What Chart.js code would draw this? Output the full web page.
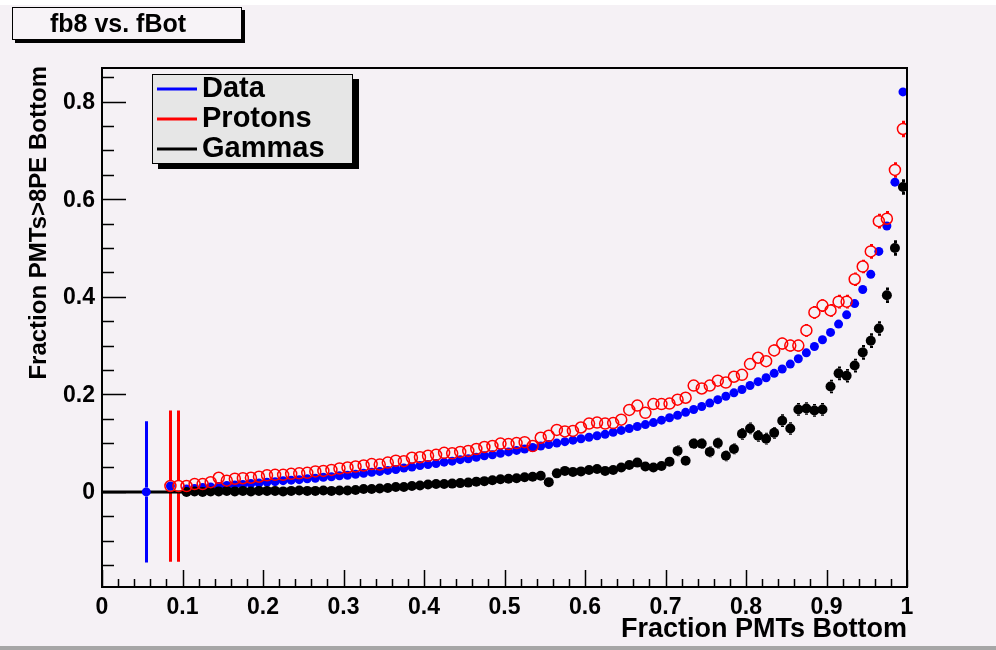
<!DOCTYPE html>
<html>
<head>
<meta charset="utf-8">
<script src="https://cdn.jsdelivr.net/npm/chart.js@4/dist/chart.umd.min.js"></script>
<style>
  html, body { margin: 0; padding: 0; background: #ffffff; }
  #wrap { width: 996px; height: 650px; }
</style>
</head>
<body>
<div id="wrap"><canvas id="chart" width="996" height="650"></canvas></div>
<script>
// ---- data (bin centres of fBot, 0.01 wide bins) ----
const binX = [
  0.055, 0.065, 0.075, 0.085, 0.095,
  0.105, 0.115, 0.125, 0.135, 0.145, 0.155, 0.165, 0.175, 0.185, 0.195,
  0.205, 0.215, 0.225, 0.235, 0.245, 0.255, 0.265, 0.275, 0.285, 0.295,
  0.305, 0.315, 0.325, 0.335, 0.345, 0.355, 0.365, 0.375, 0.385, 0.395,
  0.405, 0.415, 0.425, 0.435, 0.445, 0.455, 0.465, 0.475, 0.485, 0.495,
  0.505, 0.515, 0.525, 0.535, 0.545, 0.555, 0.565, 0.575, 0.585, 0.595,
  0.605, 0.615, 0.625, 0.635, 0.645, 0.655, 0.665, 0.675, 0.685, 0.695,
  0.705, 0.715, 0.725, 0.735, 0.745, 0.755, 0.765, 0.775, 0.785, 0.795,
  0.805, 0.815, 0.825, 0.835, 0.845, 0.855, 0.865, 0.875, 0.885, 0.895,
  0.905, 0.915, 0.925, 0.935, 0.945, 0.955, 0.965, 0.975, 0.985, 0.995
]

const dataY = [
  0.000, null, null, 0.012, null,
  0.006, 0.007, 0.009, 0.010, 0.011, 0.013, 0.014, 0.015, 0.017, 0.018,
  0.020, 0.021, 0.023, 0.024, 0.025, 0.027, 0.028, 0.030, 0.031, 0.033,
  0.034, 0.036, 0.038, 0.040, 0.042, 0.044, 0.046, 0.049, 0.051, 0.054,
  0.056, 0.058, 0.061, 0.063, 0.066, 0.068, 0.071, 0.074, 0.076, 0.079,
  0.082, 0.085, 0.088, 0.091, 0.094, 0.097, 0.100, 0.103, 0.106, 0.109,
  0.112, 0.115, 0.118, 0.122, 0.126, 0.130, 0.134, 0.138, 0.142, 0.147,
  0.152, 0.157, 0.163, 0.169, 0.175, 0.182, 0.189, 0.196, 0.203, 0.210,
  0.218, 0.226, 0.234, 0.243, 0.252, 0.262, 0.273, 0.285, 0.298, 0.312,
  0.327, 0.344, 0.363, 0.386, 0.415, 0.446, 0.493, 0.545, 0.635, 0.820
]
const dataErr = [
  0.145, 0, 0, 0.004, 0,
  0.002, 0.002, 0.002, 0.002, 0.002, 0.002, 0.002, 0.002, 0.002, 0.002,
  0.002, 0.002, 0.002, 0.002, 0.002, 0.002, 0.002, 0.002, 0.002, 0.002,
  0.002, 0.002, 0.002, 0.002, 0.002, 0.002, 0.002, 0.002, 0.002, 0.002,
  0.002, 0.002, 0.002, 0.002, 0.002, 0.002, 0.002, 0.002, 0.002, 0.002,
  0.002, 0.002, 0.002, 0.002, 0.002, 0.002, 0.002, 0.002, 0.002, 0.002,
  0.003, 0.003, 0.003, 0.003, 0.003, 0.003, 0.003, 0.003, 0.003, 0.003,
  0.003, 0.003, 0.003, 0.003, 0.003, 0.003, 0.003, 0.003, 0.003, 0.003,
  0.004, 0.004, 0.004, 0.004, 0.004, 0.004, 0.004, 0.004, 0.004, 0.004,
  0.005, 0.005, 0.005, 0.005, 0.006, 0.006, 0.006, 0.007, 0.008, 0.009
]

const protonY = [
  null, null, null, 0.012, 0.012,
  0.012, 0.016, 0.016, 0.020, 0.029, 0.023, 0.027, 0.028, 0.029, 0.031,
  0.034, 0.035, 0.035, 0.037, 0.038, 0.039, 0.042, 0.043, 0.045, 0.048,
  0.050, 0.052, 0.054, 0.057, 0.056, 0.060, 0.064, 0.063, 0.070, 0.071,
  0.074, 0.076, 0.080, 0.079, 0.082, 0.084, 0.088, 0.092, 0.094, 0.099,
  0.098, 0.100, 0.102, 0.094, 0.111, 0.115, 0.127, 0.124, 0.125, 0.132,
  0.140, 0.142, 0.140, 0.141, 0.148, 0.168, 0.177, 0.162, 0.180, 0.180,
  0.181, 0.189, 0.193, 0.218, 0.212, 0.218, 0.228, 0.224, 0.236, 0.240,
  0.262, 0.275, 0.268, 0.290, 0.304, 0.300, 0.300, 0.331, 0.368, 0.382,
  0.372, 0.390, 0.390, 0.436, 0.462, 0.493, 0.555, 0.560, 0.660, 0.744
]
const protonErr = [
  0, 0, 0, 0.155, 0.155,
  0.004, 0.004, 0.004, 0.004, 0.004, 0.004, 0.004, 0.004, 0.004, 0.004,
  0.004, 0.004, 0.004, 0.004, 0.004, 0.004, 0.004, 0.004, 0.004, 0.004,
  0.004, 0.004, 0.004, 0.004, 0.004, 0.004, 0.004, 0.004, 0.004, 0.004,
  0.005, 0.005, 0.005, 0.005, 0.005, 0.005, 0.005, 0.005, 0.005, 0.005,
  0.006, 0.006, 0.006, 0.006, 0.006, 0.006, 0.006, 0.006, 0.006, 0.006,
  0.007, 0.007, 0.007, 0.007, 0.007, 0.008, 0.008, 0.008, 0.008, 0.008,
  0.009, 0.009, 0.009, 0.009, 0.009, 0.010, 0.010, 0.010, 0.010, 0.010,
  0.011, 0.011, 0.011, 0.012, 0.012, 0.012, 0.012, 0.013, 0.013, 0.013,
  0.013, 0.014, 0.014, 0.014, 0.014, 0.015, 0.015, 0.016, 0.016, 0.017
]

const gammaY = [
  null, null, null, null, null,
  0.000, 0.001, 0.000, 0.001, 0.001, 0.002, 0.001, 0.002, 0.001, 0.002,
  0.002, 0.002, 0.001, 0.002, 0.003, 0.002, 0.002, 0.003, 0.002, 0.003,
  0.003, 0.004, 0.006, 0.006, 0.007, 0.008, 0.010, 0.010, 0.012, 0.013,
  0.015, 0.016, 0.016, 0.017, 0.018, 0.019, 0.021, 0.022, 0.024, 0.026,
  0.027, 0.028, 0.030, 0.031, 0.033, 0.020, 0.038, 0.043, 0.041, 0.042,
  0.045, 0.047, 0.043, 0.045, 0.050, 0.055, 0.060, 0.052, 0.050, 0.053,
  0.062, 0.084, 0.064, 0.099, 0.099, 0.082, 0.100, 0.074, 0.088, 0.119,
  0.130, 0.115, 0.109, 0.121, 0.146, 0.130, 0.169, 0.171, 0.167, 0.169,
  0.216, 0.243, 0.238, 0.259, 0.286, 0.310, 0.335, 0.403, 0.500, 0.625
]
const gammaErr = [
  0, 0, 0, 0, 0,
  0.003, 0.003, 0.003, 0.003, 0.003, 0.003, 0.003, 0.003, 0.003, 0.003,
  0.003, 0.003, 0.003, 0.003, 0.003, 0.003, 0.003, 0.003, 0.003, 0.003,
  0.004, 0.004, 0.004, 0.004, 0.004, 0.004, 0.004, 0.004, 0.004, 0.004,
  0.005, 0.005, 0.005, 0.005, 0.005, 0.005, 0.005, 0.005, 0.005, 0.005,
  0.006, 0.006, 0.006, 0.006, 0.006, 0.006, 0.007, 0.007, 0.007, 0.007,
  0.008, 0.008, 0.008, 0.008, 0.008, 0.009, 0.009, 0.009, 0.009, 0.009,
  0.010, 0.011, 0.010, 0.011, 0.011, 0.011, 0.011, 0.011, 0.011, 0.012,
  0.012, 0.012, 0.012, 0.012, 0.013, 0.013, 0.013, 0.013, 0.013, 0.013,
  0.014, 0.014, 0.014, 0.014, 0.015, 0.015, 0.015, 0.016, 0.016, 0.016
]

// empty gamma bins drawn along zero below fBot = 0.1
const zeroLineX = [0, 0.1]
const zeroLineY = [0, 0]

// axes
const xMin = 0, xMax = 1
const yMin = -0.195, yMax = 0.869
const xMajor = [0, 0.1, 0.2, 0.3, 0.4, 0.5, 0.6, 0.7, 0.8, 0.9, 1]
const xLabels = ['0', '0.1', '0.2', '0.3', '0.4', '0.5', '0.6', '0.7', '0.8', '0.9', '1']
const yMajor = [0, 0.2, 0.4, 0.6, 0.8]
const yLabels = ['0', '0.2', '0.4', '0.6', '0.8']
const xMinorStep = 0.02
const yMinorStep = 0.05

const titleText = 'fb8 vs. fBot'
const xTitle = 'Fraction PMTs Bottom'
const yTitle = 'Fraction PMTs>8PE Bottom'

const FONT = '"Liberation Sans", Arial, Helvetica, sans-serif'

function points(ys, errs) {
  const out = []
  binX.forEach((x, i) => {
    if (ys[i] !== null) out.push({ x: x, y: ys[i], e: errs ? errs[i] : 0 })
  })
  return out
}

// ROOT-ish canvas: background, frame, inner ticks, labels, title box, legend
const rootFrame = {
  id: 'rootFrame',
  beforeDraw(chart) {
    const ctx = chart.ctx
    ctx.save()
    ctx.fillStyle = '#ffffff'
    ctx.fillRect(0, 0, chart.width, chart.height)
    ctx.fillStyle = '#f5f1f5'
    ctx.fillRect(0, 5, chart.width, 641)
    ctx.fillStyle = '#a6a6a6'
    ctx.fillRect(0, 646, chart.width, 4)
    ctx.restore()
  },
  beforeDatasetsDraw(chart) {
    // error bars, left out inside the marker like ROOT does
    const ctx = chart.ctx
    const xs = chart.scales.x, ys = chart.scales.y
    ctx.save()
    chart.data.datasets.forEach(ds => {
      if (!ds.errorBars) return
      const r = ds.pointRadius
      ctx.strokeStyle = ds.errorColor
      ctx.lineWidth = 3
      ds.data.forEach(p => {
        if (!p.e) return
        const px = Math.round(xs.getPixelForValue(p.x)) + 0.5
        const py = ys.getPixelForValue(p.y)
        const top = ys.getPixelForValue(p.y + p.e)
        const bot = ys.getPixelForValue(p.y - p.e)
        ctx.beginPath()
        if (py - top > r) { ctx.moveTo(px, top); ctx.lineTo(px, py - r) }
        if (bot - py > r) { ctx.moveTo(px, py + r); ctx.lineTo(px, bot) }
        ctx.stroke()
      })
    })
    ctx.restore()
  },
  afterDraw(chart) {
    const ctx = chart.ctx
    const a = chart.chartArea
    const xs = chart.scales.x, ys = chart.scales.y
    ctx.save()

    // frame
    ctx.strokeStyle = '#000000'
    ctx.lineWidth = 2
    ctx.strokeRect(a.left, a.top, a.right - a.left, a.bottom - a.top)

    // y ticks (inside, from left axis)
    ctx.lineWidth = 1.5
    ctx.beginPath()
    for (let v = Math.ceil(yMin / yMinorStep) * yMinorStep; v <= yMax + 1e-9; v += yMinorStep) {
      const isMajor = Math.abs(Math.round(v / 0.2) * 0.2 - v) < 1e-6
      const py = Math.round(ys.getPixelForValue(v)) + 0.5
      ctx.moveTo(a.left, py)
      ctx.lineTo(a.left + (isMajor ? 24 : 12), py)
    }
    // x ticks (inside, from bottom axis)
    for (let v = xMin; v <= xMax + 1e-9; v += xMinorStep) {
      const isMajor = Math.abs(Math.round(v * 10) / 10 - v) < 1e-6
      const px = Math.round(xs.getPixelForValue(v)) + 0.5
      ctx.moveTo(px, a.bottom)
      ctx.lineTo(px, a.bottom - (isMajor ? 17 : 8))
    }
    ctx.stroke()

    // tick labels
    ctx.fillStyle = '#000000'
    ctx.font = 'bold 23px ' + FONT
    ctx.textAlign = 'right'
    ctx.textBaseline = 'middle'
    yMajor.forEach((v, i) => {
      ctx.fillText(yLabels[i], a.left - 7, ys.getPixelForValue(v) + 1)
    })
    ctx.textAlign = 'center'
    ctx.textBaseline = 'alphabetic'
    xMajor.forEach((v, i) => {
      ctx.fillText(xLabels[i], xs.getPixelForValue(v), 614)
    })

    // axis titles
    ctx.font = 'bold 27px ' + FONT
    ctx.textAlign = 'right'
    ctx.fillText(xTitle, a.right, 637)
    ctx.save()
    ctx.translate(46, a.top - 2)
    ctx.rotate(-Math.PI / 2)
    ctx.font = 'bold 24px ' + FONT
    ctx.textAlign = 'right'
    ctx.fillText(yTitle, 0, 0)
    ctx.restore()

    // title box
    ctx.fillStyle = '#000000'
    ctx.fillRect(15, 10, 230, 33)
    ctx.fillStyle = '#f7f3f7'
    ctx.fillRect(12, 7, 230, 33)
    ctx.lineWidth = 1
    ctx.strokeStyle = '#000000'
    ctx.strokeRect(12.5, 7.5, 229, 32)
    ctx.fillStyle = '#000000'
    ctx.font = 'bold 25px ' + FONT
    ctx.textAlign = 'center'
    ctx.fillText(titleText, 118, 32)

    // legend box
    const lx = 152, ly = 74, lw = 201, lh = 90
    ctx.fillStyle = '#000000'
    ctx.fillRect(lx + 6, ly + 5, lw, lh)
    ctx.fillStyle = '#e6e6e6'
    ctx.fillRect(lx, ly, lw, lh)
    ctx.strokeStyle = '#000000'
    ctx.strokeRect(lx + 0.5, ly + 0.5, lw - 1, lh - 1)
    const rows = [89, 119, 149]
    chart.data.datasets.filter(d => d.inLegend).forEach((ds, i) => {
      ctx.strokeStyle = ds.errorColor
      ctx.lineWidth = 3
      ctx.beginPath()
      ctx.moveTo(157, rows[i])
      ctx.lineTo(197, rows[i])
      ctx.stroke()
      ctx.fillStyle = '#000000'
      ctx.font = 'bold 29px ' + FONT
      ctx.textAlign = 'left'
      ctx.fillText(ds.label, 202, rows[i] + 8)
    })
    ctx.restore()
  }
}

new Chart(document.getElementById('chart'), {
  type: 'scatter',
  data: {
    datasets: [
      {
        label: 'Data',
        data: points(dataY, dataErr),
        pointStyle: 'circle',
        pointRadius: 4.5,
        pointBackgroundColor: '#0000ff',
        pointBorderColor: '#0000ff',
        pointBorderWidth: 0,
        errorBars: true,
        errorColor: '#0000ff',
        inLegend: true,
        order: 3
      },
      {
        label: 'Protons',
        data: points(protonY, protonErr),
        pointStyle: 'circle',
        pointRadius: 5.5,
        pointBackgroundColor: 'rgba(0,0,0,0)',
        pointBorderColor: '#ff0000',
        pointBorderWidth: 1.5,
        errorBars: true,
        errorColor: '#ff0000',
        inLegend: true,
        order: 1
      },
      {
        label: 'Gammas',
        data: points(gammaY, gammaErr),
        pointStyle: 'circle',
        pointRadius: 5,
        pointBackgroundColor: '#000000',
        pointBorderColor: '#000000',
        pointBorderWidth: 0,
        errorBars: true,
        errorColor: '#000000',
        inLegend: true,
        order: 2
      },
      {
        label: 'zero',
        data: zeroLineX.map((x, i) => ({ x: x, y: zeroLineY[i] })),
        showLine: true,
        borderColor: '#000000',
        borderWidth: 3,
        pointRadius: 0,
        inLegend: false,
        order: 4
      }
    ]
  },
  options: {
    responsive: false,
    devicePixelRatio: 1,
    animation: false,
    layout: { padding: { left: 102, right: 89, top: 68, bottom: 63 } },
    scales: {
      x: { type: 'linear', min: xMin, max: xMax, display: false },
      y: { type: 'linear', min: yMin, max: yMax, display: false }
    },
    plugins: {
      legend: { display: false },
      tooltip: { enabled: false }
    }
  },
  plugins: [rootFrame]
})
</script>
</body>
</html>
